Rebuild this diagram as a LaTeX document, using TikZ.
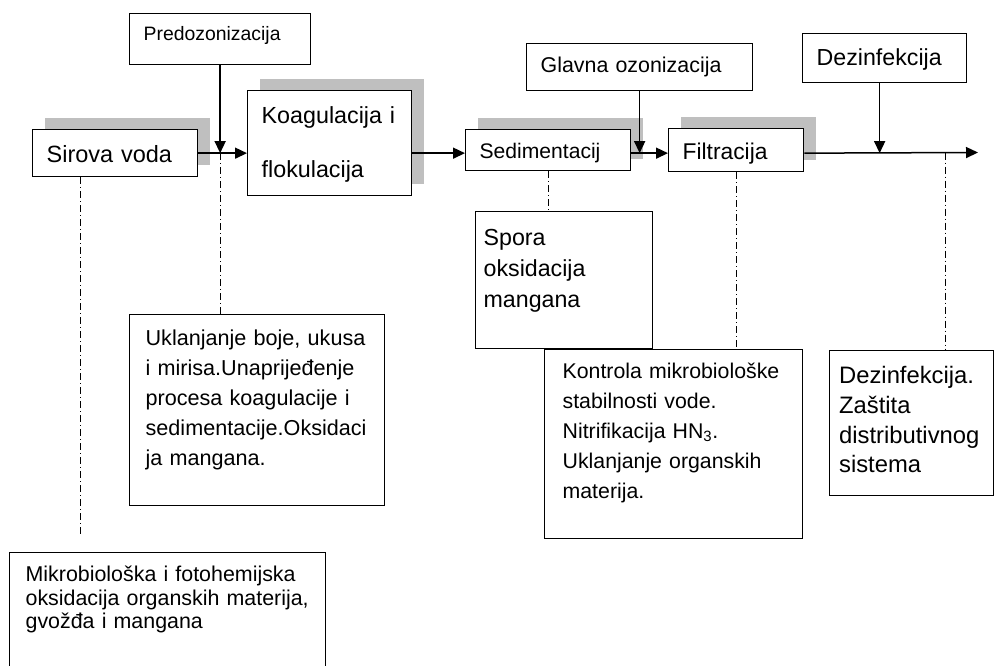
\documentclass[tikz,border=0pt]{standalone}
\usepackage{fontspec}
\setmainfont{Liberation Sans}
\usetikzlibrary{arrows.meta,shadows}

\begin{document}
\begin{tikzpicture}[x=1pt,y=-1pt]
    \tikzset{
        box/.style={draw, line width=1.3pt, fill=white, anchor=north west, align=left, inner xsep=14pt, inner ysep=0pt},
        grayshadow/.style={drop shadow={shadow xshift=12pt, shadow yshift=12pt, fill=black!25, opacity=1}},
        line/.style={draw, line width=1.5pt, -{Triangle[length=12pt,width=11pt]}},
        guide/.style={draw, line width=1pt, dash pattern=on 7pt off 3pt on 1pt off 3pt},
    };
    \useasboundingbox (0,0) rectangle (995,666);

    % process steps along the main line
    \node [box, grayshadow, text width=137pt, text height=33pt, text depth=14pt, font=\fontsize{23.5}{28}\selectfont] (sirova) at (32,129) {Sirova voda};
    \node [box, grayshadow, text width=136pt, text height=33pt, text depth=72pt, font=\fontsize{23.3}{54}\selectfont] (koag) at (247,90) {Koagulacija i\\flokulacija};
    \node [box, grayshadow, text width=137pt, text height=29pt, text depth=12pt, font=\fontsize{21.1}{26}\selectfont] (sedim) at (465,129) {Sedimentacij};
    \node [box, grayshadow, text width=107pt, text height=31pt, text depth=12pt, font=\fontsize{22.8}{27}\selectfont] (filt) at (668,128) {Filtracija};

    % dosing points
    \node [box, text width=153pt, text height=27pt, text depth=24pt, font=\fontsize{19.4}{23}\selectfont] (predoz) at (129,13) {Predozonizacija};
    \node [box, text width=198pt, text height=29pt, text depth=18pt, font=\fontsize{21.4}{26}\selectfont] (glavna) at (526,43) {Glavna ozonizacija};
    \node [box, text width=136pt, text height=32pt, text depth=17pt, font=\fontsize{23.2}{28}\selectfont] (dez) at (802,33) {Dezinfekcija};

    % notes
    \node [box, inner xsep=16pt, text width=223pt, text height=31pt, text depth=160pt, font=\fontsize{21.6}{30}\selectfont] (ukl) at (129,314) {Uklanjanje boje, ukusa\\i mirisa.Unaprijeđenje\\procesa koagulacije i\\sedimentacije.Oksidaci\\ja mangana.};
    \node [box, inner xsep=8pt, text width=161pt, text height=34pt, text depth=103pt, font=\fontsize{23.2}{31}\selectfont] (spora) at (475,211) {Spora\\oksidacija\\mangana};
    \node [box, inner xsep=18pt, text width=222pt, text height=29pt, text depth=160pt, font=\fontsize{21.3}{30}\selectfont] (kontr) at (544,349) {Kontrola mikrobiološke\\stabilnosti vode.\\Nitrifikacija HN\textsubscript{3}.\\Uklanjanje organskih\\materija.};
    \node [box, inner xsep=9.5pt, text width=145pt, text height=33pt, text depth=112pt, font=\fontsize{23.8}{29.7}\selectfont] (dezo) at (829,350) {Dezinfekcija.\\Zaštita\\distributivnog\\sistema};
    \node [box, inner xsep=16pt, text width=284pt, text height=29pt, text depth=94pt, font=\fontsize{21.4}{23.5}\selectfont] (mikro) at (9,552) {Mikrobiološka i fotohemijska\\oksidacija organskih materija,\\gvožđa i mangana};

    \coordinate (kraj) at (978,152.5);
    \coordinate (odvod) at (945,152.5);

    \path [line] (sirova.east) -- (sirova.east -| koag.west);
    \path [line] (sirova.east -| koag.east) -- (sirova.east -| sedim.west);
    \path [line] (sirova.east -| sedim.east) -- (sirova.east -| filt.west);
    \path [line] (sirova.east -| filt.east) -- (kraj);

    \path [line] (predoz) -- (predoz |- sirova.east);
    \path [line] (glavna) -- (glavna |- sirova.east);
    \path [line] ([xshift=-5pt]dez.south) -- ([xshift=-5pt]dez.south |- sirova.east);

    \path [guide, shorten >=16pt] ([xshift=48pt]sirova.south west) -- ([xshift=48pt]sirova.south west |- mikro.north);
    \path [guide] (predoz |- sirova.east) -- (predoz |- ukl.north);
    \path [guide] (sedim) -- (sedim |- spora.north);
    \path [guide] (filt) -- (filt |- kontr.north);
    \path [guide] (odvod) -- (odvod |- dezo.north);
\end{tikzpicture}
\end{document}
